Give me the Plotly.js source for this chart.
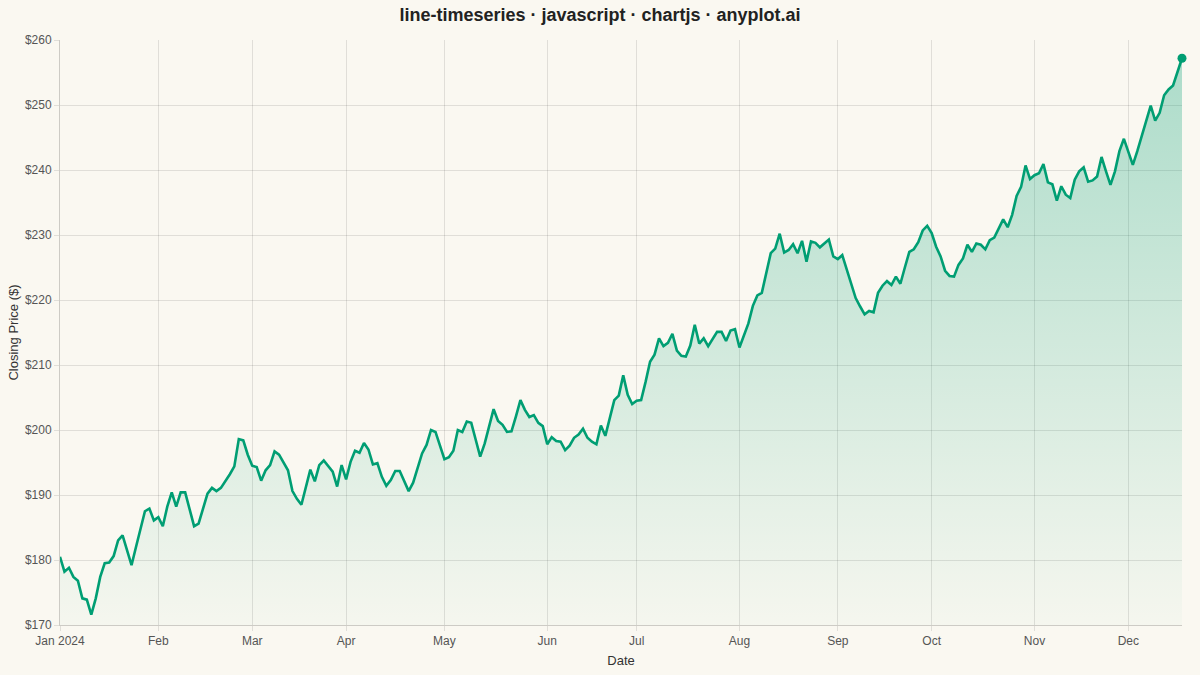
<!DOCTYPE html>
<html>
<head>
<meta charset="utf-8">
<script src="https://cdn.plot.ly/plotly-3.0.1.min.js"></script>
<style>
  html, body { margin: 0; padding: 0; background: #FAF8F1; }
  #chart { width: 1200px; height: 675px; }
</style>
</head>
<body>
<div id="chart"></div>
<script>
// first trading day, one close per weekday after it
var startDate = '2024-01-02';

var closePrices = [
    180.5,178.2,178.8,177.4,176.8,174.1,173.9,171.6,174.1,177.4,179.5,179.6,180.6,183.0,183.8,181.5,
    179.2,182.0,184.8,187.5,187.9,186.1,186.6,185.2,188.2,190.4,188.2,190.4,190.4,187.8,185.2,185.6,
    188.0,190.2,191.1,190.6,191.1,192.1,193.2,194.4,198.6,198.4,196.2,194.5,194.3,192.2,193.8,194.6,
    196.7,196.2,195.0,193.8,190.6,189.4,188.5,191.0,193.9,192.1,194.6,195.3,194.5,193.6,191.3,194.6,
    192.4,195.1,196.8,196.5,198.0,197.0,194.7,194.9,192.8,191.4,192.3,193.7,193.7,192.1,190.6,191.9,
    194.2,196.4,197.7,200.0,199.7,197.7,195.5,195.8,196.8,200.0,199.7,201.3,201.1,198.5,195.9,197.9,200.8,
    203.2,201.4,200.8,199.7,199.8,202.1,204.6,203.1,202.0,202.3,201.1,200.6,197.8,198.9,198.3,198.2,
    196.9,197.6,198.8,199.3,200.2,198.8,198.2,197.8,200.7,199.1,201.8,204.6,205.3,208.4,205.4,204.0,
    204.5,204.6,207.4,210.5,211.6,214.1,212.9,213.4,214.8,212.2,211.4,211.3,213.0,216.2,213.3,214.1,
    212.9,214.1,215.1,215.1,213.7,215.3,215.5,212.7,214.7,216.4,219.1,220.7,221.1,224.2,227.2,227.9,
    230.2,227.3,227.7,228.6,227.2,229.1,225.9,229.0,228.8,228.1,228.7,229.3,226.7,226.3,226.9,224.6,
    222.3,220.3,219.0,217.8,218.3,218.1,221.1,222.2,222.9,222.3,223.6,222.5,225.0,227.4,227.8,228.9,
    230.7,231.4,230.3,228.2,226.7,224.5,223.7,223.6,225.4,226.4,228.5,227.4,228.7,228.5,227.8,229.2,
    229.6,231.0,232.4,231.2,233.1,236.0,237.4,240.7,238.6,239.2,239.5,240.9,238.1,237.8,235.3,237.5,
    236.2,235.7,238.5,239.8,240.4,238.2,238.4,239.0,242.0,239.8,237.7,239.8,242.9,244.8,242.7,240.8,
    242.9,245.3,247.8,249.9,247.6,248.8,251.5,252.4,253.0,255.3,257.2
];

var monthTicks = ['2024-01-02','2024-02-01','2024-03-01','2024-04-01','2024-05-01','2024-06-03',
                  '2024-07-01','2024-08-01','2024-09-02','2024-10-01','2024-11-01','2024-12-02'];
var monthLabels = ['Jan 2024','Feb','Mar','Apr','May','Jun','Jul','Aug','Sep','Oct','Nov','Dec'];
var priceTicks = [170,180,190,200,210,220,230,240,250,260];

// weekday dates for every close
function pad(n){ return n < 10 ? '0' + n : '' + n; }
var dates = [];
var d = new Date(startDate + 'T00:00:00Z');
while (dates.length < closePrices.length) {
    var wd = d.getUTCDay();
    if (wd != 0 && wd != 6) {
        dates.push(d.getUTCFullYear() + '-' + pad(d.getUTCMonth() + 1) + '-' + pad(d.getUTCDate()));
    }
    d.setUTCDate(d.getUTCDate() + 1);
}
var priceLabels = priceTicks.map(function(v){ return '$' + v; });

var green = 'rgb(0,158,115)';
var gridCol = 'rgba(0,0,0,0.1)';
var last = closePrices.length - 1;

var data = [
    {
        x: dates, y: closePrices, mode: 'lines', name: 'Close',
        line: {color: green, width: 2.6},
        fill: 'tozeroy',
        fillgradient: {
            type: 'vertical', start: 170, stop: 260,
            colorscale: [[0, 'rgba(0,158,115,0.02)'], [1, 'rgba(0,158,115,0.32)']]
        },
        hoverinfo: 'x+y'
    },
    {
        x: [dates[last]], y: [closePrices[last]], mode: 'markers', name: 'Last',
        marker: {color: green, size: 9},
        cliponaxis: false,
        hoverinfo: 'x+y'
    }
];

var layout = {
    width: 1200, height: 675,
    paper_bgcolor: '#FAF8F1', plot_bgcolor: '#FAF8F1',
    font: {family: '"Liberation Sans", Arial, sans-serif', size: 12, color: '#555'},
    title: {
        text: '<b>line-timeseries · javascript · chartjs · anyplot.ai</b>',
        font: {size: 18, color: '#222'}, x: 0.5, xanchor: 'center', y: 0.978, yanchor: 'middle'
    },
    showlegend: false,
    margin: {l: 60, r: 18, t: 40, b: 50},
    xaxis: {
        type: 'date',
        range: [dates[0], dates[last]],
        rangebreaks: [{bounds: ['sat', 'mon']}],
        tickmode: 'array', tickvals: monthTicks, ticktext: monthLabels,
        showgrid: true, gridcolor: gridCol, gridwidth: 1,
        showline: true, linecolor: 'rgba(0,0,0,0.18)', linewidth: 1,
        ticks: 'outside', ticklen: 5, tickcolor: gridCol,
        tickfont: {size: 12, color: '#555'},
        title: {text: 'Date', font: {size: 13, color: '#333'}, standoff: 8},
        zeroline: false
    },
    yaxis: {
        range: [170, 260],
        tickmode: 'array', tickvals: priceTicks, ticktext: priceLabels,
        showgrid: true, gridcolor: gridCol, gridwidth: 1,
        showline: true, linecolor: 'rgba(0,0,0,0.18)', linewidth: 1,
        ticks: 'outside', ticklen: 5, tickcolor: gridCol,
        tickfont: {size: 12, color: '#555'},
        title: {text: 'Closing Price ($)', font: {size: 13, color: '#333'}, standoff: 3},
        zeroline: false
    }
};

Plotly.newPlot('chart', data, layout, {displayModeBar: false, staticPlot: true});
</script>
</body>
</html>
